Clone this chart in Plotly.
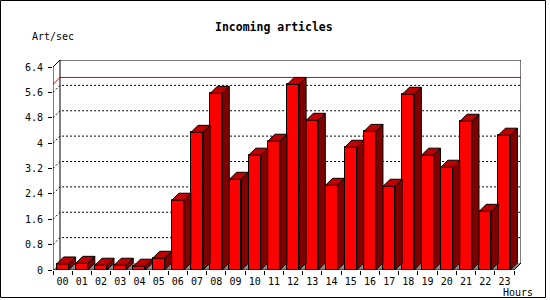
import plotly.graph_objects as go

# ---------------- data ----------------
hours = ["00", "01", "02", "03", "04", "05", "06", "07", "08", "09", "10", "11",
         "12", "13", "14", "15", "16", "17", "18", "19", "20", "21", "22", "23"]
art_per_sec = [0.19, 0.21, 0.15, 0.15, 0.12, 0.37, 2.20, 4.34, 5.57, 2.86, 3.62, 4.06,
               5.85, 4.72, 2.67, 3.87, 4.37, 2.64, 5.54, 3.62, 3.24, 4.69, 1.85, 4.25]
y_tickvals = [0, 0.8, 1.6, 2.4, 3.2, 4.0, 4.8, 5.6, 6.4]
y_ticktext = ["0", "0.8", "1.6", "2.4", "3.2", "4", "4.8", "5.6", "6.4"]
title_text = "Incoming articles"
y_label = "Art/sec"
x_label = "Hours"

# ---------------- geometry ----------------
W, H = 550, 300
ML, MR, MT, MB = 53, 29, 60, 30
PW, PH = W - ML - MR, H - MT - MB
DX_PX, DY_PX = 7, 7
Y_FRONT_MAX = 6.4
n = len(hours)
cat_px = (PW - DX_PX) / n
unit_px = (PH - DY_PX) / Y_FRONT_MAX
dx = DX_PX / cat_px
dy = DY_PX / unit_px
bar_w = 12 / cat_px
hw = bar_w / 2
x0, x1 = -0.5, n - 0.5
max_line = max(art_per_sec)

FONT = "DejaVu Sans Mono"
FRONT, TOP, SIDE, FLOOR = "#FF0000", "#C00000", "#800000", "#8C8C8C"


def px_x(px):
    return (px - ML) / PW


def px_y(py):
    return (H - MB - py) / PH


fig = go.Figure()

# front faces
fig.add_trace(go.Bar(
    x=list(range(n)), y=art_per_sec, width=bar_w,
    marker=dict(color=FRONT, line=dict(color="black", width=1)),
    hoverinfo="skip", showlegend=False,
))

# top and side faces
tx, ty, sx, sy = [], [], [], []
for i, v in enumerate(art_per_sec):
    tx += [i - hw, i + hw, i + hw + dx, i - hw + dx, i - hw, None]
    ty += [v, v, v + dy, v + dy, v, None]
    sx += [i + hw, i + hw + dx, i + hw + dx, i + hw, i + hw, None]
    sy += [0, dy, v + dy, v, 0, None]
fig.add_trace(go.Scatter(x=sx, y=sy, mode="lines", fill="toself", fillcolor=SIDE,
                         line=dict(color="black", width=1), hoverinfo="skip", showlegend=False))
fig.add_trace(go.Scatter(x=tx, y=ty, mode="lines", fill="toself", fillcolor=TOP,
                         line=dict(color="black", width=1), hoverinfo="skip", showlegend=False))

shapes = []
# floor
shapes.append(dict(type="path", xref="x", yref="y", layer="below",
                   path=f"M {x0},0 L {x1},0 L {x1+dx},{dy} L {x0+dx},{dy} Z",
                   fillcolor=FLOOR, line=dict(width=0)))
# dotted gridlines on back wall
for v in y_tickvals[1:-1]:
    shapes.append(dict(type="path", xref="x", yref="y", layer="below",
                       path=f"M {x0},{v} L {x0+dx},{v+dy} L {x1+dx},{v+dy}",
                       line=dict(color="black", width=1, dash="2px,2px")))
# max line
shapes.append(dict(type="path", xref="x", yref="y", layer="below",
                   path=f"M {x0},{max_line} L {x0+dx},{max_line+dy} L {x1+dx},{max_line+dy}",
                   line=dict(color="#E00000", width=1)))
# frame
frame_lines = [
    (x0, 0, x0, Y_FRONT_MAX),
    (x0, Y_FRONT_MAX, x0 + dx, Y_FRONT_MAX + dy),
    (x0 + dx, Y_FRONT_MAX + dy, x1 + dx, Y_FRONT_MAX + dy),
    (x0 + dx, dy, x0 + dx, Y_FRONT_MAX + dy),
    (x1 + dx, dy, x1 + dx, Y_FRONT_MAX + dy),
    (x0, 0, x1, 0),
    (x1, 0, x1 + dx, dy),
]
for a, b, c, d in frame_lines:
    shapes.append(dict(type="line", xref="x", yref="y", layer="below",
                       x0=a, y0=b, x1=c, y1=d, line=dict(color="black", width=1)))
# outer border
shapes.append(dict(type="rect", xref="paper", yref="paper",
                   x0=px_x(0.5), x1=px_x(545.5), y0=px_y(297.5), y1=px_y(0.5),
                   line=dict(color="black", width=1), fillcolor="rgba(0,0,0,0)"))

annotations = [
    dict(text=f"<b>{title_text}</b>", xref="paper", yref="paper", x=px_x(274), y=px_y(27),
         xanchor="center", yanchor="middle", showarrow=False,
         font=dict(family=FONT, size=11.5, color="black")),
    dict(text=y_label, xref="paper", yref="paper", x=px_x(30), y=px_y(37),
         xanchor="left", yanchor="middle", showarrow=False,
         font=dict(family=FONT, size=10, color="black")),
    dict(text=x_label, xref="paper", yref="paper", x=px_x(534.5), y=px_y(292.5),
         xanchor="right", yanchor="middle", showarrow=False,
         font=dict(family=FONT, size=10, color="black")),
]

fig.update_layout(
    width=W, height=H, margin=dict(l=ML, r=MR, t=MT, b=MB, pad=0),
    paper_bgcolor="white", plot_bgcolor="white",
    showlegend=False, hovermode=False, bargap=0,
    shapes=shapes, annotations=annotations,
    xaxis=dict(range=[x0, x1 + dx], showgrid=False, zeroline=False, showline=False,
               tickmode="array", tickvals=[k - 0.5 for k in range(n + 1)],
               ticks="outside", ticklen=4, tickcolor="black", tickwidth=1,
               showticklabels=False, fixedrange=True),
    xaxis2=dict(range=[x0, x1 + dx], overlaying="x", anchor="y", side="bottom",
                showgrid=False, zeroline=False, showline=False,
                tickmode="array", tickvals=list(range(n)), ticktext=hours,
                ticks="", ticklabelstandoff=4,
                tickfont=dict(family=FONT, size=10, color="black"),
                fixedrange=True),
    yaxis=dict(range=[0, Y_FRONT_MAX + dy], showgrid=False, zeroline=False, showline=False,
               tickmode="array", tickvals=y_tickvals, ticktext=y_ticktext,
               ticks="outside", ticklen=4, tickcolor="black", tickwidth=1,
               ticklabelstandoff=3,
               tickfont=dict(family=FONT, size=10, color="black"), fixedrange=True),
)
# dummy trace to activate xaxis2
fig.add_trace(go.Scatter(x=[0], y=[0], xaxis="x2", yaxis="y", mode="markers",
                         marker=dict(opacity=0), hoverinfo="skip", showlegend=False))

fig.write_html("out.html", config={"displayModeBar": False})
